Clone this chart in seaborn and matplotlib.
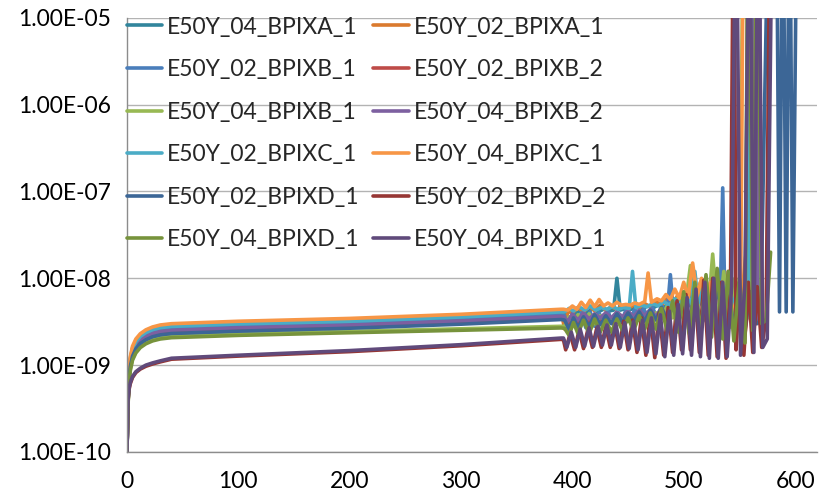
import numpy as np
import pandas as pd
import matplotlib
matplotlib.use("Agg")
import matplotlib.pyplot as plt
from matplotlib.ticker import FixedLocator, FuncFormatter, NullLocator
import seaborn as sns

# ---------------- data (y values in units of 1e-9) ----------------
OFF = 1e6  # value beyond the top of the chart (clipped)

labels = ["E50Y_04_BPIXA_1", "E50Y_02_BPIXA_1", "E50Y_02_BPIXB_1", "E50Y_02_BPIXB_2",
          "E50Y_04_BPIXB_1", "E50Y_04_BPIXB_2", "E50Y_02_BPIXC_1", "E50Y_04_BPIXC_1",
          "E50Y_02_BPIXD_1", "E50Y_02_BPIXD_2", "E50Y_04_BPIXD_1", "E50Y_04_BPIXD_1"]

colors = ["#31859C", "#DA7A2E", "#4A7EBB", "#BE4B48", "#98B954", "#7D60A0",
          "#4BACC6", "#F79646", "#3C6696", "#963634", "#77933C", "#604A7B"]

x_early = [0, 1, 2, 3, 5, 8, 12, 17, 23, 30, 40, 100, 200, 300, 390]

y_early_04A1 = [0.1, 0.45, 0.86, 1.12, 1.48, 1.80, 2.07, 2.30, 2.47, 2.61, 2.70, 2.88, 3.10, 3.46, 3.95]
y_early_02A1 = [0.1, 0.48, 0.90, 1.19, 1.57, 1.91, 2.19, 2.43, 2.62, 2.76, 2.86, 3.05, 3.30, 3.68, 4.20]
y_early_02B1 = [0.1, 0.43, 0.82, 1.08, 1.43, 1.73, 1.99, 2.21, 2.38, 2.51, 2.60, 2.78, 3.00, 3.34, 3.80]
y_early_02B2 = [0.1, 0.40, 0.76, 1.00, 1.32, 1.60, 1.84, 2.04, 2.20, 2.32, 2.40, 2.56, 2.76, 3.08, 3.50]
y_early_04B1 = [0.1, 0.36, 0.68, 0.90, 1.18, 1.43, 1.65, 1.83, 1.97, 2.08, 2.15, 2.28, 2.45, 2.62, 2.80]
y_early_04B2 = [0.1, 0.42, 0.80, 1.05, 1.39, 1.68, 1.93, 2.14, 2.31, 2.44, 2.52, 2.69, 2.90, 3.23, 3.65]
y_early_02C1 = [0.1, 0.47, 0.88, 1.16, 1.53, 1.86, 2.14, 2.37, 2.56, 2.70, 2.79, 2.98, 3.20, 3.58, 4.10]
y_early_04C1 = [0.1, 0.50, 0.95, 1.25, 1.65, 2.00, 2.30, 2.55, 2.75, 2.90, 3.00, 3.20, 3.45, 3.85, 4.40]
y_early_02D1 = [0.1, 0.39, 0.73, 0.96, 1.27, 1.54, 1.77, 1.96, 2.12, 2.23, 2.31, 2.46, 2.66, 2.96, 3.35]
y_early_02D2 = [0.1, 0.39, 0.53, 0.61, 0.72, 0.82, 0.90, 0.97, 1.03, 1.09, 1.17, 1.27, 1.43, 1.67, 1.98]
y_early_04D1g = [0.1, 0.35, 0.66, 0.86, 1.14, 1.38, 1.59, 1.76, 1.90, 2.00, 2.07, 2.20, 2.36, 2.52, 2.68]
y_early_04D1p = [0.1, 0.40, 0.55, 0.63, 0.74, 0.84, 0.92, 1.00, 1.06, 1.12, 1.20, 1.30, 1.47, 1.72, 2.05]

x_tail_04A1 = [394, 398, 403, 408, 413, 418, 423, 428, 433, 437, 440, 443, 448, 453, 458, 463, 468, 473,
               478, 483, 488, 493, 498, 503, 508, 513, 518, 523, 528, 533, 538, 543, 548, 553, 557, 560]
y_tail_04A1 = [3.9, 4.2, 3.9, 4.4, 4.0, 4.5, 4.1, 4.4, 4.2, 4.3, 10.0, 4.3, 4.5, 4.4, 4.6, 4.5, 4.8, 4.6,
               5.0, 4.7, 5.3, 4.9, 5.8, 5.0, 6.5, 5.2, 7.5, 5.0, 8.0, 4.8, 7.0, 4.5, 6.0, 4.2, 8.0, OFF]

x_tail_02A1 = [393, 396, 400, 405, 410, 415, 420, 425, 430, 435, 440, 445, 450, 455, 460, 465, 470, 475,
               480, 485, 490, 495, 500, 505, 510, 515, 520, 525, 530, 535, 540, 545, 549, 552, 556, 559]
y_tail_02A1 = [2.6, 4.2, 4.0, 4.6, 4.1, 4.8, 4.2, 4.9, 4.3, 4.7, 4.4, 4.8, 4.5, 4.9, 4.6, 5.1, 4.7, 5.4,
               4.9, 5.8, 5.0, 6.5, 5.2, 7.5, 5.3, 9.0, 5.0, 10.0, 4.6, 9.0, 4.2, 8.0, 3.8, 6.0, 20.0, OFF]

x_tail_02B1 = [393, 396, 400, 404, 408, 412, 416, 420, 424, 428, 432, 436, 440, 444, 448, 452, 456, 460,
               464, 468, 472, 476, 480, 485, 488, 491, 495, 500, 505, 510, 515, 520, 525, 530, 533, 535,
               537, 540, 545, 550, 555, 560, 564]
y_tail_02B1 = [3.7, 2.5, 3.9, 2.6, 4.0, 2.7, 4.1, 2.8, 4.0, 2.9, 4.2, 3.0, 4.1, 3.1, 4.3, 3.2, 4.4, 3.3,
               4.5, 3.4, 4.6, 3.5, 4.8, 3.8, 11.0, 3.8, 5.0, 3.5, 5.5, 3.4, 6.0, 3.2, 7.0, 3.1, 8.0, 110.0,
               5.0, 3.0, 6.0, 2.8, 7.0, 30.0, OFF]

x_tail_02B2 = [392, 396, 400, 405, 410, 415, 420, 425, 430, 435, 440, 445, 450, 455, 460, 465, 470, 475,
               480, 485, 490, 495, 500, 505, 510, 515, 520, 525, 530, 535, 540, 545, 550, 555, 560, 563]
y_tail_02B2 = [3.5, 3.0, 3.6, 3.1, 3.7, 3.2, 3.8, 3.1, 3.7, 3.2, 3.9, 3.3, 3.8, 3.4, 4.0, 3.3, 4.2, 3.4,
               4.5, 3.3, 5.0, 3.2, 5.5, 3.0, 6.5, 2.8, 8.0, 2.7, 10.0, 2.5, 12.0, 2.4, 9.0, 2.3, 8.0, OFF]

x_tail_04B1 = [393, 397, 401, 405, 410, 415, 420, 425, 430, 435, 440, 445, 450, 455, 460, 465, 470, 475,
               480, 485, 490, 495, 500, 506, 511, 516, 521, 526, 531, 536, 541, 546, 550, 554, 556, 559,
               562, 566, 569]
y_tail_04B1 = [2.8, 3.6, 2.9, 3.8, 3.0, 3.9, 3.0, 3.7, 3.1, 3.5, 3.1, 3.6, 3.2, 3.5, 3.3, 3.7, 3.3, 4.0,
               3.4, 4.8, 3.5, 6.0, 3.4, 14.0, 3.3, 9.0, 3.0, 19.0, 2.9, 12.0, 2.7, 10.0, 3.0, OFF, OFF, 3.5,
               8.0, 3.2, OFF]

x_tail_04B2 = [392, 396, 400, 405, 410, 415, 420, 425, 430, 435, 440, 445, 450, 455, 460, 465, 470, 475,
               480, 485, 490, 495, 500, 505, 510, 515, 520, 525, 530, 535, 540, 545, 550, 555, 559, 562,
               566, 570]
y_tail_04B2 = [3.6, 3.2, 3.9, 3.3, 4.0, 3.4, 3.9, 3.5, 4.0, 3.5, 4.1, 3.6, 4.2, 3.6, 4.3, 3.7, 4.4, 3.6,
               4.6, 3.5, 5.0, 3.4, 5.6, 3.3, 6.5, 3.1, 7.5, 3.0, 9.0, 2.8, 10.0, 2.6, 9.0, 2.5, OFF, OFF,
               3.0, OFF]

x_tail_02C1 = [393, 397, 401, 406, 411, 416, 421, 426, 431, 436, 441, 446, 451, 454, 457, 462, 467, 472,
               477, 482, 487, 492, 497, 502, 507, 510, 513, 518, 523, 528, 533, 538, 543, 548, 553, 558, 562]
y_tail_02C1 = [4.1, 4.5, 4.2, 4.7, 4.3, 4.8, 4.3, 4.6, 4.4, 4.7, 4.4, 4.6, 4.5, 12.0, 4.6, 4.9, 4.7, 5.1,
               4.8, 5.4, 4.9, 5.8, 5.0, 6.6, 5.1, 12.0, 5.2, 8.0, 5.0, 9.0, 4.8, 8.0, 4.5, 7.0, 4.3, 6.0, OFF]

x_tail_04C1 = [392, 396, 400, 404, 408, 412, 416, 420, 424, 428, 432, 436, 440, 444, 448, 452, 456, 460,
               465, 468, 471, 476, 480, 484, 488, 492, 496, 500, 504, 508, 512, 516, 520, 524, 528, 532,
               536, 540, 544, 548, 551, 554]
y_tail_04C1 = [4.4, 4.3, 4.8, 4.4, 5.3, 4.6, 5.6, 4.7, 5.7, 4.8, 5.2, 4.8, 5.3, 4.9, 5.0, 4.9, 5.2, 5.0,
               5.4, 11.5, 5.3, 5.8, 5.5, 6.5, 5.7, 7.5, 5.9, 9.0, 6.0, 15.0, 6.2, 10.0, 5.5, 9.0, 5.0, 7.0,
               4.5, 6.0, 4.0, 6.0, 3.5, OFF]

x_tail_02D1 = [393, 397, 401, 405, 410, 415, 420, 425, 430, 435, 440, 445, 450, 455, 460, 465, 470, 475,
               480, 485, 490, 495, 500, 505, 510, 515, 520, 525, 530, 535, 540, 545, 550, 555, 560, 565,
               569, 577, 583, 586, 589, 592, 595, 598, 602]
y_tail_02D1 = [3.3, 2.6, 3.5, 2.7, 3.6, 2.8, 3.8, 2.9, 3.7, 3.0, 3.9, 3.1, 4.0, 3.2, 4.1, 3.2, 4.3, 3.3,
               4.6, 3.2, 5.0, 3.1, 5.5, 3.0, 6.5, 2.9, 7.5, 2.8, 8.5, 2.7, 9.0, 2.6, 8.0, 2.6, 7.0, 3.0,
               3.2, OFF, OFF, 4.1, OFF, 4.1, OFF, 4.1, OFF]

x_tail_02D2 = [392, 394, 398, 402, 406, 410, 414, 418, 422, 426, 430, 434, 438, 442, 446, 450, 454, 458,
               462, 466, 470, 474, 478, 482, 486, 490, 494, 498, 502, 506, 510, 514, 518, 522, 526, 530,
               534, 538, 542, 545, 547, 550, 554, 558, 562, 566, 570, 574, 578]
y_tail_02D2 = [1.95, 1.5, 2.3, 1.5, 2.5, 1.55, 2.6, 1.6, 2.7, 1.6, 2.8, 1.6, 3.0, 1.55, 3.2, 1.5, 3.3, 1.4,
               3.5, 1.3, 3.8, 1.22, 4.0, 1.3, 4.6, 1.4, 5.5, 1.5, 6.5, 1.5, 8.0, 1.4, 9.5, 1.3, 10.0, 1.25,
               9.0, 1.2, 8.0, OFF, 1.5, 7.0, 1.3, 9.0, 1.4, 8.0, 1.6, 3.5, OFF]

x_tail_04D1g = [393, 397, 401, 405, 410, 415, 420, 425, 430, 435, 440, 445, 450, 455, 460, 465, 470, 475,
                480, 485, 490, 495, 500, 505, 510, 515, 520, 525, 530, 535, 540, 545, 550, 555, 558, 562,
                566, 570, 574, 578]
y_tail_04D1g = [2.65, 2.2, 3.1, 2.3, 3.3, 2.3, 3.4, 2.4, 3.3, 2.4, 3.4, 2.5, 3.5, 2.5, 3.7, 2.6, 4.0, 2.6,
                4.5, 2.5, 5.5, 2.4, 7.0, 2.3, 9.0, 2.2, 11.0, 2.1, 13.0, 2.0, 12.0, 1.9, 10.0, 1.8, OFF, 2.5,
                OFF, 3.0, 3.3, 20.0]

x_tail_04D1p = [392, 395, 399, 403, 407, 411, 415, 419, 423, 427, 431, 435, 439, 443, 447, 451, 455, 459,
                463, 467, 471, 475, 479, 483, 487, 491, 495, 499, 503, 507, 511, 515, 519, 523, 527, 531,
                535, 539, 543, 547, 551, 555, 559, 563, 567, 571, 575, 580]
y_tail_04D1p = [2.05, 1.6, 2.4, 1.6, 2.6, 1.65, 2.7, 1.65, 2.8, 1.7, 2.9, 1.7, 3.0, 1.6, 3.1, 1.55, 3.2, 1.5,
                3.3, 1.4, 3.5, 1.35, 3.8, 1.25, 4.2, 1.3, 5.0, 1.35, 6.0, 1.3, 7.5, 1.25, 9.0, 1.2, 10.0, 1.2,
                9.0, 1.25, 8.0, OFF, 1.3, 9.0, OFF, 1.4, OFF, 1.6, 2.0, OFF]

series_x = [x_early + x_tail_04A1, x_early + x_tail_02A1, x_early + x_tail_02B1, x_early + x_tail_02B2,
            x_early + x_tail_04B1, x_early + x_tail_04B2, x_early + x_tail_02C1, x_early + x_tail_04C1,
            x_early + x_tail_02D1, x_early + x_tail_02D2, x_early + x_tail_04D1g, x_early + x_tail_04D1p]
series_y = [y_early_04A1 + y_tail_04A1, y_early_02A1 + y_tail_02A1, y_early_02B1 + y_tail_02B1,
            y_early_02B2 + y_tail_02B2, y_early_04B1 + y_tail_04B1, y_early_04B2 + y_tail_04B2,
            y_early_02C1 + y_tail_02C1, y_early_04C1 + y_tail_04C1, y_early_02D1 + y_tail_02D1,
            y_early_02D2 + y_tail_02D2, y_early_04D1g + y_tail_04D1g, y_early_04D1p + y_tail_04D1p]

x_ticks = [0, 100, 200, 300, 400, 500, 600]
y_ticks = [1e-10, 1e-9, 1e-8, 1e-7, 1e-6, 1e-5]

# ---------------- plot ----------------
sns.set_theme(style="white")
plt.rcParams["font.family"] = ["Lato", "DejaVu Sans"]

fig = plt.figure(figsize=(8.19, 4.95), dpi=100)
ax = fig.add_axes([0.155, 0.087, 0.843, 0.877])

handles = []
for i in range(len(labels)):
    df = pd.DataFrame({"x": series_x[i], "y": np.array(series_y[i]) * 1e-9})
    sns.lineplot(data=df, x="x", y="y", ax=ax, color=colors[i], linewidth=2.6,
                 sort=False, estimator=None, label=labels[i], legend=False,
                 solid_joinstyle="round", solid_capstyle="round")
    handles.append(ax.lines[-1])

ax.set_yscale("log")
ax.set_xlim(0, 620)
ax.set_ylim(1e-10, 1e-5)
ax.xaxis.set_major_locator(FixedLocator(x_ticks))
ax.yaxis.set_major_locator(FixedLocator(y_ticks))
ax.yaxis.set_minor_locator(NullLocator())
ax.yaxis.set_major_formatter(FuncFormatter(lambda v, p: f"{v:.2E}"))
ax.set_xlabel("")
ax.set_ylabel("")

ax.grid(axis="y", color="#B3B3B3", linewidth=1.0)
ax.grid(axis="x", visible=False)
for s in ["top", "right"]:
    ax.spines[s].set_visible(False)
for s in ["left", "bottom"]:
    ax.spines[s].set_color("#8C8C8C")
    ax.spines[s].set_linewidth(1.0)
ax.tick_params(axis="both", which="major", direction="out", length=5.5, width=1.0,
               color="#8C8C8C", labelsize=16.5, labelcolor="#000000", pad=6)
ax.tick_params(axis="x", pad=8)

order = [0, 2, 4, 6, 8, 10, 1, 3, 5, 7, 9, 11]
leg = ax.legend([handles[k] for k in order], [labels[k] for k in order], ncol=2,
                loc="upper left", bbox_to_anchor=(0.0, 1.003), frameon=False,
                fontsize=16.5, handlelength=1.55, handletextpad=0.2, columnspacing=0.6,
                labelspacing=0.94, borderpad=0, borderaxespad=0)

fig.savefig("out.png", dpi=100)
